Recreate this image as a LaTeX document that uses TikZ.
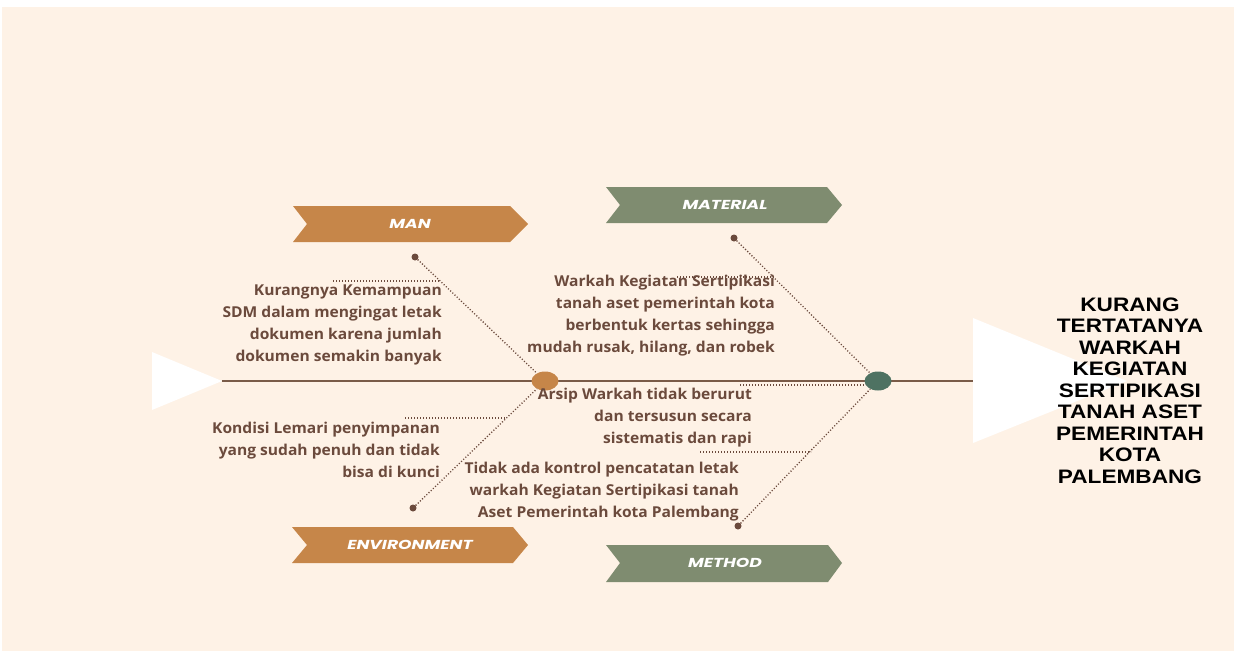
\documentclass[tikz,border=0pt]{standalone}
\usepackage{fontspec}
\usetikzlibrary{shapes.geometric}
\newfontfamily\causefont{Open Sans}[FakeStretch=1.04]
\newfontfamily\bannerfont{Poppins}[FakeStretch=1.32]
\newfontfamily\effectfont{Liberation Sans}[FakeStretch=1.16]
\definecolor{bgcream}{HTML}{FEF2E6}
\definecolor{ochre}{HTML}{C68649}
\definecolor{sage}{HTML}{7F8C70}
\definecolor{pine}{HTML}{4E7262}
\definecolor{spinecol}{HTML}{7A5B48}
\definecolor{bark}{HTML}{6B4A3C}
\begin{document}
\begin{tikzpicture}[x=1pt,y=-1pt,
  cause/.style={font=\causefont\bfseries\fontsize{15}{21.7}\selectfont, text=bark, align=right, inner sep=0pt, anchor=base east},
  bannertext/.style={font=\bannerfont\bfseries\itshape\fontsize{13}{15}\selectfont, text=white, inner sep=0pt},
  effect/.style={font=\effectfont\bfseries\fontsize{19.5}{21.5}\selectfont, text=black, align=center, inner sep=0pt, anchor=base},
  dotlink/.style={draw=bark, line width=1.3pt, dash pattern=on 1.1pt off 1.9pt},
  knot/.style={circle, fill=bark, inner sep=0pt, minimum size=7pt},
  hub/.style={ellipse, inner sep=0pt, minimum width=27pt, minimum height=19pt},
  bigtri/.style={fill=white},
]
\useasboundingbox (0,0) rectangle (1234,651);
\fill[white] (0,0) rectangle (1234,651);
\fill[bgcream] (2,7) rectangle (1234,651);

% head and tail triangles
\fill[bigtri] (152,352) -- (222,381) -- (152,410) -- cycle;
\fill[bigtri] (973,318) -- (1127,381) -- (973,443) -- cycle;
\coordinate (tail) at (222,381);
\coordinate (head) at (973,381);

% spine
\draw[spinecol, line width=1.8pt] (tail) -- (head);

% hubs
\node[hub, fill=ochre] (ohub) at (545,381) {};
\node[hub, fill=pine] (ghub) at (878,381) {};

% banners
\fill[ochre] (293,206) -- (510,206) -- (528,224) -- (510,242) -- (293,242) -- (307,224) -- cycle;
\node[bannertext] (man) at (410,224) {MAN};
\fill[sage] (606,187) -- (827,187) -- (842,205) -- (827,223) -- (606,223) -- (620,205) -- cycle;
\node[bannertext] (material) at (725,205) {MATERIAL};
\fill[ochre] (292,527) -- (513,527) -- (528,545) -- (513,563) -- (292,563) -- (307,545) -- cycle;
\node[bannertext] (environment) at (410,545) {ENVIRONMENT};
\fill[sage] (606,545) -- (828,545) -- (842,563) -- (828,582) -- (606,582) -- (620,563) -- cycle;
\node[bannertext] (method) at (725,563) {METHOD};

% knots
\node[knot] (mandot) at (415,257) {};
\node[knot] (matdot) at (734,238) {};
\node[knot] (envdot) at (413,508) {};
\node[knot] (metdot) at (738,526) {};

% bones
\draw[dotlink] (mandot) -- (ohub);
\draw[dotlink] (matdot) -- (ghub);
\draw[dotlink] (envdot) -- (ohub);
\draw[dotlink] (metdot) -- (ghub);

% label rules
\coordinate (k1) at (333,281); \coordinate (k2) at (440,281);
\draw[dotlink] (k1) -- (k2);
\coordinate (w1) at (677,277); \coordinate (w2) at (774,277);
\draw[dotlink] (w1) -- (w2);
\coordinate (e1) at (405,418); \coordinate (e2) at (506,418);
\draw[dotlink] (e1) -- (e2);
\coordinate (t1) at (700,452); \coordinate (t2) at (811,452);
\draw[dotlink] (t1) -- (t2);
\coordinate (a1) at (740,385); \coordinate (a2) at (866,385);
\draw[dotlink] (a1) -- (a2);

% cause texts (anchor = baseline of last line)
\node[cause] (kurang) at (442,361) {Kurangnya Kemampuan\\SDM dalam mengingat letak\\dokumen karena jumlah\\dokumen semakin banyak};
\node[cause] (warkah) at (775,352) {Warkah Kegiatan Sertipikasi\\tanah aset pemerintah kota\\berbentuk kertas sehingga\\mudah rusak, hilang, dan robek};
\node[cause] (kondisi) at (440,477) {Kondisi Lemari penyimpanan\\yang sudah penuh dan tidak\\bisa di kunci};
\node[cause] (arsip) at (752,443) {Arsip Warkah tidak berurut\\dan tersusun secara\\sistematis dan rapi};
\node[cause] (tidak) at (739,517) {Tidak ada kontrol pencatatan letak\\warkah Kegiatan Sertipikasi tanah\\Aset Pemerintah kota Palembang};

% effect
\node[effect] (effect) at (1130,483) {KURANG\\TERTATANYA\\WARKAH\\KEGIATAN\\SERTIPIKASI\\TANAH ASET\\PEMERINTAH\\KOTA\\PALEMBANG};
\end{tikzpicture}
\end{document}
